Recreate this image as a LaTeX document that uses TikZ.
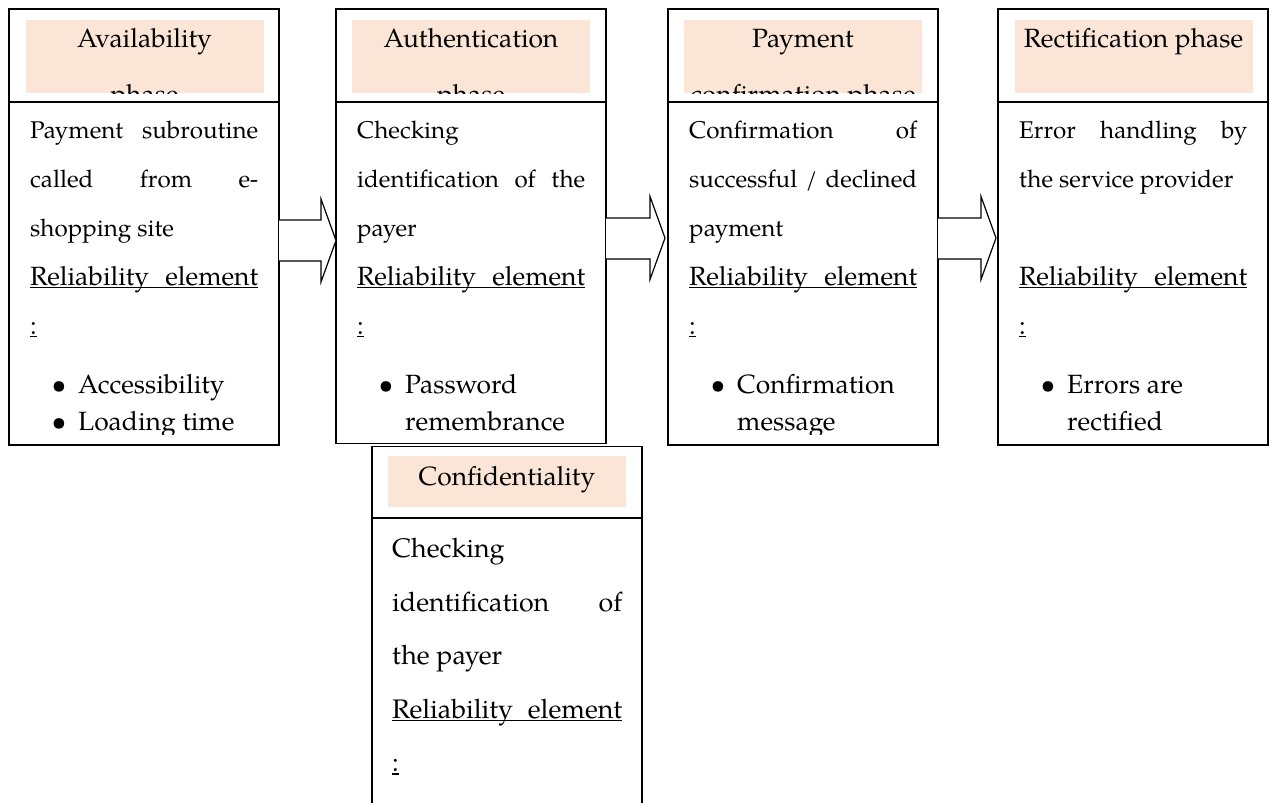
\documentclass[tikz,border=0pt]{standalone}
\usepackage{fontspec}
\setmainfont{TeX Gyre Pagella}
\definecolor{peach}{HTML}{FBE5D6}
\newcommand\bodyf{\fontsize{24.2}{29}\selectfont}
\newcommand\bigf{\fontsize{26.4}{31}\selectfont}
\newcommand\confl{\fontsize{26.8}{32}\selectfont}
\newcommand\J[1]{\makebox[228pt][s]{#1}}
\newcommand\JC[1]{\makebox[230pt][s]{#1}}
\newcommand\U[1]{{\bigf\makebox[0pt][l]{\rule[-3pt]{228pt}{1.1pt}}\makebox[228pt][s]{#1}}}
\newcommand\UC[1]{\makebox[0pt][l]{\rule[-3pt]{230pt}{1.1pt}}\makebox[230pt][s]{#1}}
\newcommand\ucolon{{\bigf\makebox[0pt][l]{\rule[-3pt]{6.5pt}{1.1pt}}:}}
\begin{document}
\begin{tikzpicture}[x=1pt,y=-1pt,
  boxst/.style={draw=black, line width=1.3pt, inner sep=0pt, outer sep=0pt, anchor=north west, minimum width=270pt},
  divline/.style={draw=black, line width=1.3pt},
  hdtxt/.style={anchor=base, inner sep=0pt, font=\bigf},
  bodytxt/.style={anchor=base west, inner sep=0pt, font=\bodyf},
  bigtxt/.style={anchor=base west, inner sep=0pt, font=\bigf},
  bul/.style={anchor=base, inner sep=0pt, font=\bigf},
  conftxt/.style={anchor=base west, inner sep=0pt, font=\confl},
  blk/.style={draw=black, line width=1.2pt, line join=miter, fill=white}]
\useasboundingbox (0,0) rectangle (1269,803);

% ---------- boxes ----------
\node[boxst, minimum height=436pt] (b1) at (9,9) {};
\node[boxst, minimum height=434.5pt] (b2) at (336,9) {};
\node[boxst, minimum height=436pt] (b3) at (668,9) {};
\node[boxst, minimum height=436pt] (b4) at (998,9) {};
\node[boxst, minimum height=420pt] (b5) at (372,446.5) {};

% header dividers
\draw[divline] (9,102) -- (279,102);
\draw[divline] (336,102) -- (606,102);
\draw[divline] (668,102) -- (938,102);
\draw[divline] (998,102) -- (1268,102);
\draw[divline] (372,518) -- (642,518);

% header fills
\fill[peach] (25.5,20) rectangle (263.5,93);
\fill[peach] (352,20) rectangle (590,93);
\fill[peach] (684,20) rectangle (922,93);
\fill[peach] (1014.5,20) rectangle (1252.5,93);
\fill[peach] (388,456) rectangle (626,507);

% header texts
\begin{scope}
\clip (25.5,20) rectangle (263.5,93);
\node[hdtxt] (h1a) at (144.5,47) {Availability};
\node[hdtxt] (h1b) at (144.5,103) {phase};
\end{scope}
\begin{scope}
\clip (352,20) rectangle (590,93);
\node[hdtxt] (h2a) at (471,47) {Authentication};
\node[hdtxt] (h2b) at (471,103) {phase};
\end{scope}
\begin{scope}
\clip (684,20) rectangle (922,93);
\node[hdtxt] (h3a) at (803,47) {Payment};
\node[hdtxt] (h3b) at (803,103) {confirmation phase};
\end{scope}
\node[hdtxt] (h4a) at (1133.5,47) {Rectification phase};
\node[hdtxt] (h5a) at (507,485) {Confidentiality};

% ---------- body box 1 ----------
\begin{scope}
\clip (9,102) rectangle (279,434);
\node[bodytxt] (t11) at (30,138) {\J{Payment subroutine}};
\node[bodytxt] (t12) at (30,187) {\J{called from e-}};
\node[bodytxt] (t13) at (30,236) {shopping site};
\node[bodytxt] (t14) at (30,285) {\U{Reliability element}};
\node[bodytxt] (t15) at (30,334) {\ucolon};
\node[bul] (u11) at (59,393) {\textbullet};
\node[bigtxt] (t16) at (78,393) {Accessibility};
\node[bul] (u12) at (59,430) {\textbullet};
\node[bigtxt] (t17) at (78,430) {Loading time};
\end{scope}

% ---------- body box 2 ----------
\begin{scope}
\clip (336,102) rectangle (606,434);
\node[bodytxt] (t21) at (357,138) {Checking};
\node[bodytxt] (t22) at (357,187) {\J{identification of the}};
\node[bodytxt] (t23) at (357,236) {payer};
\node[bodytxt] (t24) at (357,285) {\U{Reliability element}};
\node[bodytxt] (t25) at (357,334) {\ucolon};
\node[bul] (u21) at (386,393) {\textbullet};
\node[bigtxt] (t26) at (405,393) {Password};
\node[bigtxt] (t27) at (405,430) {remembrance};
\end{scope}

% ---------- body box 3 ----------
\begin{scope}
\clip (668,102) rectangle (938,434);
\node[bodytxt] (t31) at (689,138) {\J{Confirmation of}};
\node[bodytxt] (t32) at (689,187) {\J{successful / declined}};
\node[bodytxt] (t33) at (689,236) {payment};
\node[bodytxt] (t34) at (689,285) {\U{Reliability element}};
\node[bodytxt] (t35) at (689,334) {\ucolon};
\node[bul] (u31) at (718,393) {\textbullet};
\node[bigtxt] (t36) at (737,393) {Confirmation};
\node[bigtxt] (t37) at (737,430) {message};
\end{scope}

% ---------- body box 4 ----------
\begin{scope}
\clip (998,102) rectangle (1268,434);
\node[bodytxt] (t41) at (1019,138) {\J{Error handling by}};
\node[bodytxt] (t42) at (1019,187) {the service provider};
\node[bodytxt] (t44) at (1019,285) {\U{Reliability element}};
\node[bodytxt] (t45) at (1019,334) {\ucolon};
\node[bul] (u41) at (1048,393) {\textbullet};
\node[bigtxt] (t46) at (1067,393) {Errors are};
\node[bigtxt] (t47) at (1067,430) {rectified};
\end{scope}

% ---------- confidentiality box ----------
\node[conftxt] (t51) at (392,557.5) {Checking};
\node[conftxt] (t52) at (392,611) {\JC{identification of}};
\node[conftxt] (t53) at (392,664.5) {the payer};
\node[conftxt] (t54) at (392,718) {\UC{Reliability element}};
\node[conftxt] (t55) at (392,771.5) {\makebox[0pt][l]{\rule[-3pt]{6.5pt}{1.1pt}}:};

% ---------- block arrows ----------
\draw[blk] (b1.east |- 0,220) -- (321,220) -- (321,199) -- (336,240.5) -- (321,282) -- (321,261) -- (b1.east |- 0,261);
\draw[blk] (b2.east |- 0,218) -- (650,218) -- (650,196.5) -- (665,238) -- (650,279.5) -- (650,259) -- (b2.east |- 0,259);
\draw[blk] (b3.east |- 0,218) -- (981,218) -- (981,196.5) -- (996,238) -- (981,279.5) -- (981,259) -- (b3.east |- 0,259);
\end{tikzpicture}
\end{document}
